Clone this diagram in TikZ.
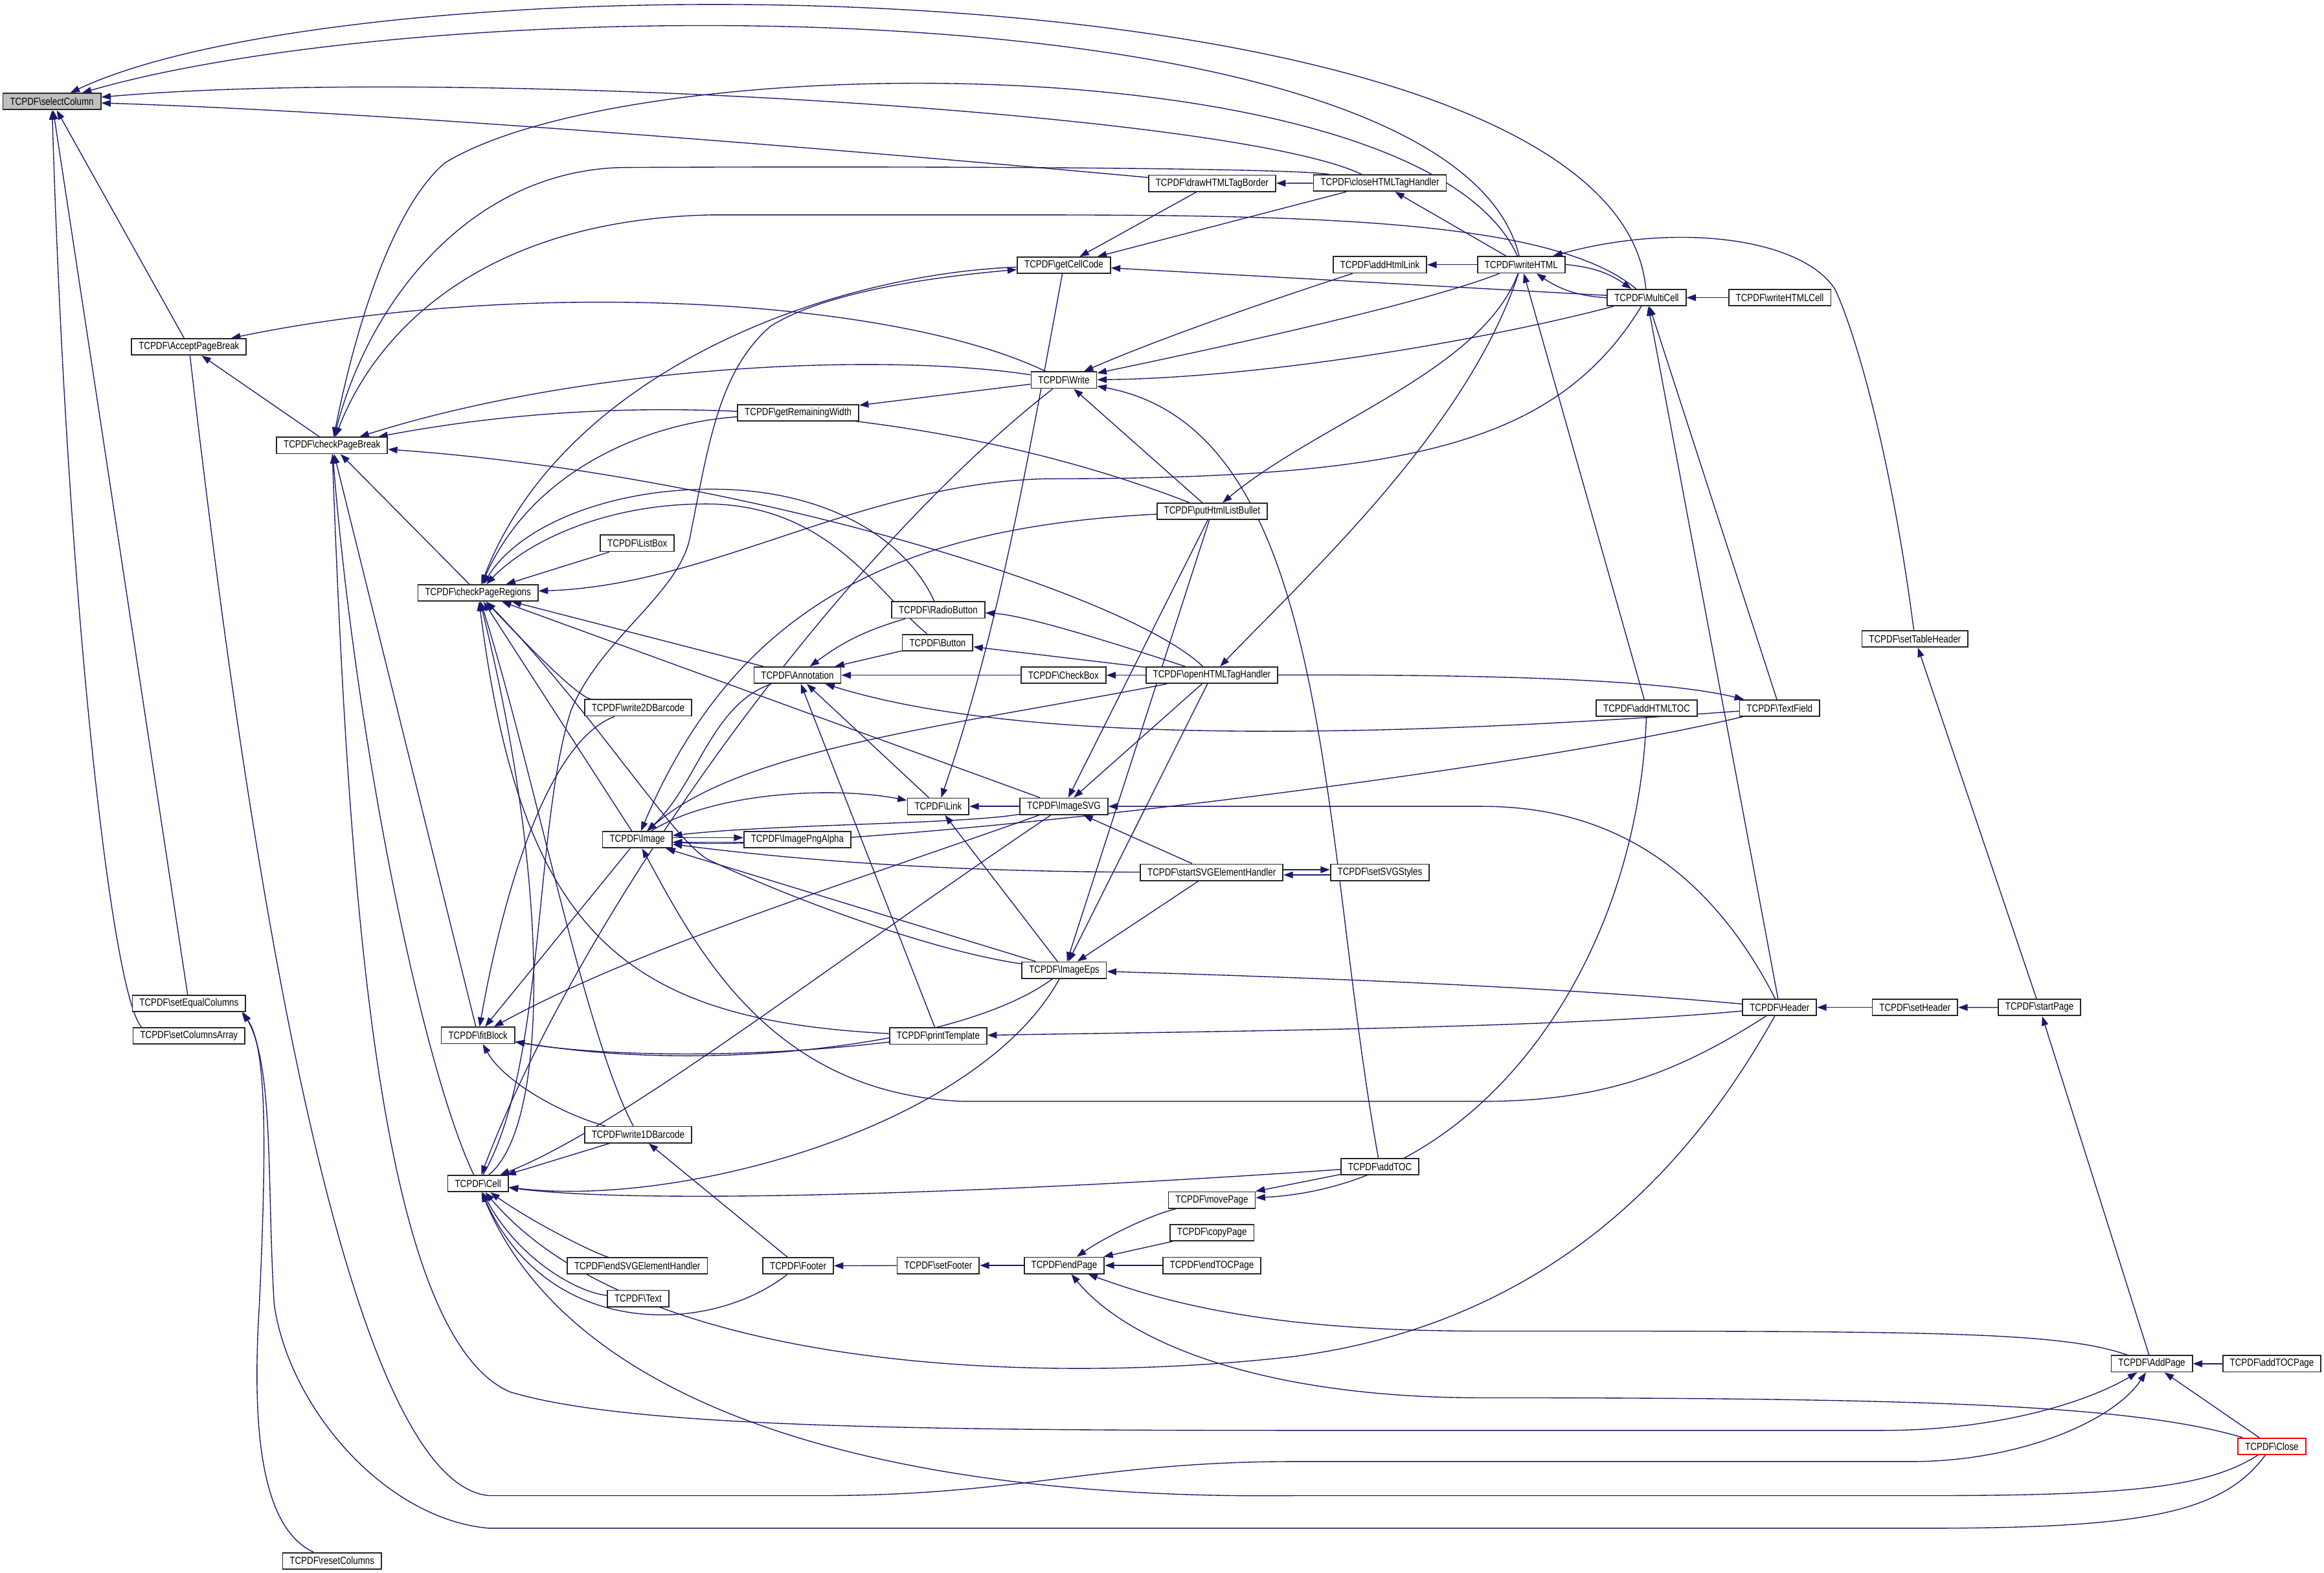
\documentclass[tikz,border=0pt]{standalone}
\usepackage{fontspec}
\setmainfont[FakeStretch=0.83]{Liberation Sans}
\usetikzlibrary{arrows.meta,backgrounds}
\definecolor{edgeblue}{HTML}{191970}
\definecolor{rootgray}{HTML}{BFBFBF}
\newcommand{\tcpdf}[1]{TCPDF\textbackslash #1}

\begin{document}
\begin{tikzpicture}[x=0.05cm, y=-0.05cm,
	func/.style={draw=black!85, fill=white, line width=1.1pt, minimum height=0.55cm, inner xsep=0.24cm, inner ysep=0pt, font=\fontsize{10}{12}\selectfont},
	root/.style={func, fill=rootgray},
	trunc/.style={func, draw=red},
	call/.style={draw=edgeblue, line width=0.85pt, -{Triangle[length=9pt,width=6.4pt]}}]
	\useasboundingbox (0,0) rectangle (1568,1061);

	% functions, column by column
	\node[root] (selectColumn) at (35,68.5) {\tcpdf{selectColumn}};
	\node[func] (AcceptPageBreak) at (127.5,234) {\tcpdf{AcceptPageBreak}};
	\node[func] (setEqualColumns) at (127.5,677) {\tcpdf{setEqualColumns}};
	\node[func] (setColumnsArray) at (127.5,698.7) {\tcpdf{setColumnsArray}};
	\node[func] (checkPageBreak) at (224,300.5) {\tcpdf{checkPageBreak}};
	\node[func] (resetColumns) at (224,1053) {\tcpdf{resetColumns}};
	\node[func] (checkPageRegions) at (322.5,400) {\tcpdf{checkPageRegions}};
	\node[func] (fitBlock) at (322.5,698.5) {\tcpdf{fitBlock}};
	\node[func] (Cell) at (322.5,798.5) {\tcpdf{Cell}};
	\node[func] (ListBox) at (430,366.5) {\tcpdf{ListBox}};
	\node[func] (write2DBarcode) at (430.5,477.5) {\tcpdf{write2DBarcode}};
	\node[func] (Image) at (430,566.5) {\tcpdf{Image}};
	\node[func] (write1DBarcode) at (430.5,765.5) {\tcpdf{write1DBarcode}};
	\node[func] (endSVGElementHandler) at (430,854) {\tcpdf{endSVGElementHandler}};
	\node[func] (Text) at (430.5,876) {\tcpdf{Text}};
	\node[func] (getRemainingWidth) at (538.5,278.5) {\tcpdf{getRemainingWidth}};
	\node[func] (Annotation) at (538,455.5) {\tcpdf{Annotation}};
	\node[func] (ImagePngAlpha) at (538,566.5) {\tcpdf{ImagePngAlpha}};
	\node[func] (Footer) at (538.5,854) {\tcpdf{Footer}};
	\node[func] (RadioButton) at (633,411.5) {\tcpdf{RadioButton}};
	\node[func] (Button) at (632.6,433.5) {\tcpdf{Button}};
	\node[func] (Link) at (633,544) {\tcpdf{Link}};
	\node[func] (printTemplate) at (633,699) {\tcpdf{printTemplate}};
	\node[func] (setFooter) at (633,853.7) {\tcpdf{setFooter}};
	\node[func] (getCellCode) at (717.8,179) {\tcpdf{getCellCode}};
	\node[func] (Write) at (717.8,256.4) {\tcpdf{Write}};
	\node[func] (CheckBox) at (717.5,455.5) {\tcpdf{CheckBox}};
	\node[func] (ImageSVG) at (717.8,544) {\tcpdf{ImageSVG}};
	\node[func] (ImageEps) at (718,654.5) {\tcpdf{ImageEps}};
	\node[func] (endPage) at (718,853.7) {\tcpdf{endPage}};
	\node[func] (drawHTMLTagBorder) at (817.8,123.7) {\tcpdf{drawHTMLTagBorder}};
	\node[func] (putHtmlListBullet) at (817.8,345) {\tcpdf{putHtmlListBullet}};
	\node[func] (openHTMLTagHandler) at (817.6,455.5) {\tcpdf{openHTMLTagHandler}};
	\node[func] (startSVGElementHandler) at (817.5,588.5) {\tcpdf{startSVGElementHandler}};
	\node[func] (movePage) at (817.6,809.6) {\tcpdf{movePage}};
	\node[func] (copyPage) at (817.7,831.6) {\tcpdf{copyPage}};
	\node[func] (endTOCPage) at (817.6,853.7) {\tcpdf{endTOCPage}};
	\node[func] (closeHTMLTagHandler) at (931,123.5) {\tcpdf{closeHTMLTagHandler}};
	\node[func] (addHtmlLink) at (931,178.6) {\tcpdf{addHtmlLink}};
	\node[func] (setSVGStyles) at (931,588.5) {\tcpdf{setSVGStyles}};
	\node[func] (addTOC) at (931,787) {\tcpdf{addTOC}};
	\node[func] (writeHTML) at (1026.4,178.6) {\tcpdf{writeHTML}};
	\node[func] (MultiCell) at (1111,200.8) {\tcpdf{MultiCell}};
	\node[func] (addHTMLTOC) at (1111,477.7) {\tcpdf{addHTMLTOC}};
	\node[func] (writeHTMLCell) at (1200.8,200.8) {\tcpdf{writeHTMLCell}};
	\node[func] (TextField) at (1200.7,477.7) {\tcpdf{TextField}};
	\node[func] (Header) at (1200.7,679.6) {\tcpdf{Header}};
	\node[func] (setTableHeader) at (1292,431) {\tcpdf{setTableHeader}};
	\node[func] (setHeader) at (1292,679.6) {\tcpdf{setHeader}};
	\node[func] (startPage) at (1376,679.7) {\tcpdf{startPage}};
	\node[func] (AddPage) at (1451.8,920) {\tcpdf{AddPage}};
	\node[func] (addTOCPage) at (1532.8,920) {\tcpdf{addTOCPage}};
	\node[trunc] (Close) at (1532.8,975.7) {\tcpdf{Close}};

	\begin{scope}[on background layer]
	% calls into selectColumn
	\draw[call] (AcceptPageBreak) -- (selectColumn);
	\draw[call] (setEqualColumns) -- (selectColumn);
	\draw[call] ([xshift=0.3cm]setColumnsArray.north west) .. controls (75,670) and (45,400) .. (selectColumn);
	\draw[call] (MultiCell) .. controls (1090,-28) and (250,-33) .. (selectColumn);
	\draw[call] (writeHTML) .. controls (980,-12) and (300,-8) .. (selectColumn);
	\draw[call] (closeHTMLTagHandler) .. controls (830,75) and (300,45) .. (selectColumn);
	\draw[call] (drawHTMLTagBorder) .. controls (560,100) and (250,75) .. (selectColumn);

	\draw[call] (checkPageBreak) -- (AcceptPageBreak);
	\draw[call] (Write) .. controls (600,200) and (350,188) .. (AcceptPageBreak);

	% page handling
	\draw[call] (AcceptPageBreak) .. controls (165,560) and (230,1000) .. (330,1009) -- (553,1009) .. controls (690,1009) and (740,986) .. (874,986) -- (1290,986) .. controls (1360,986) and (1425,960) .. (AddPage);
	\draw[call] (checkPageBreak) .. controls (235,600) and (255,900) .. (344,939) .. controls (420,962) and (600,965) .. (874,965) -- (1270,965) .. controls (1350,965) and (1410,945) .. (AddPage);
	\draw[call] (Close) -- (AddPage);
	\draw[call] (addTOCPage) -- (AddPage);
	\draw[call] (AddPage) -- (startPage);
	\draw[call] (startPage) -- (setHeader);
	\draw[call] (setHeader) -- (Header);
	\draw[call] (startPage) -- (setTableHeader);
	\draw[call] (setTableHeader) .. controls (1275,300) and (1250,220) .. (1238,195) .. controls (1215,160) and (1130,150) .. (writeHTML);
	\draw[call] (Close) .. controls (1490,1003) and (1440,1009) .. (1300,1009) -- (874,1009) .. controls (620,1012) and (390,960) .. (Cell);
	\draw[call] (Close) .. controls (1500,1020) and (1450,1031) .. (1300,1031) -- (330,1031) .. controls (260,1025) and (195,950) .. (185,880) .. controls (180,800) and (185,720) .. ([xshift=-0.1cm]setEqualColumns.south east);
	\draw[call] (resetColumns) .. controls (175,1030) and (170,960) .. (175,880) .. controls (180,770) and (180,705) .. ([xshift=-0.15cm]setEqualColumns.south east);
	\draw[call] (Close) .. controls (1440,948) and (1300,943) .. (1000,943) .. controls (850,943) and (760,905) .. (endPage);
	\draw[call] (AddPage) .. controls (1390,898) and (1300,898) .. (1000,898) .. controls (860,898) and (790,880) .. (endPage);
	\draw[call] (movePage) .. controls (775,820) and (745,835) .. (endPage);
	\draw[call] (copyPage) -- (endPage);
	\draw[call] (endTOCPage) -- (endPage);
	\draw[call] (endPage) -- (setFooter);
	\draw[call] (setFooter) -- (Footer);
	\draw[call] (Footer) -- (write1DBarcode);
	\draw[call] (addTOC) -- (movePage);
	\draw[call] (addHTMLTOC) .. controls (1105,650) and (1000,800) .. (movePage);

	% html
	\draw[call] (writeHTMLCell) -- (MultiCell);
	\draw[call] (writeHTML) to[bend left=15] (MultiCell);
	\draw[call] (MultiCell) to[bend left=15] (writeHTML);
	\draw[call] (addHTMLTOC) -- (writeHTML);
	\draw[call] (writeHTML) -- (addHtmlLink);
	\draw[call] (addHtmlLink) .. controls (880,195) and (790,225) .. (Write);
	\draw[call] (writeHTML) .. controls (960,205) and (820,235) .. (Write);
	\draw[call] (MultiCell) .. controls (1000,230) and (850,255) .. (Write);
	\draw[call] (addTOC) .. controls (890,560) and (900,290) .. (Write);
	\draw[call] (putHtmlListBullet) -- (Write);
	\draw[call] (Write) -- (getRemainingWidth);
	\draw[call] (writeHTML) -- (closeHTMLTagHandler);
	\draw[call] (closeHTMLTagHandler) -- (drawHTMLTagBorder);
	\draw[call] (drawHTMLTagBorder) -- (getCellCode);
	\draw[call] (closeHTMLTagHandler) -- (getCellCode);
	\draw[call] (MultiCell) -- (getCellCode);
	\draw[call] (Cell) .. controls (368,720) and (360,560) .. (385,480) .. controls (405,430) and (460,400) .. (466,360) .. controls (478,300) and (485,250) .. (520,220) .. controls (560,195) and (640,186) .. (getCellCode);
	\draw[call] (getCellCode) .. controls (690,330) and (672,430) .. (Link);
	\draw[call] (writeHTML) .. controls (990,290) and (880,390) .. (openHTMLTagHandler);
	\draw[call] (writeHTML) .. controls (1000,250) and (890,285) .. (putHtmlListBullet);
	\draw[call] (openHTMLTagHandler) .. controls (640,490) and (500,505) .. (Image);
	\draw[call] (putHtmlListBullet) .. controls (620,355) and (500,400) .. (Image);
	\draw[call] (putHtmlListBullet) -- (ImageSVG);
	\draw[call] (putHtmlListBullet) -- (ImageEps);
	\draw[call] (openHTMLTagHandler) -- (ImageSVG);
	\draw[call] (openHTMLTagHandler) -- (ImageEps);
	\draw[call] (openHTMLTagHandler) -- (CheckBox);
	\draw[call] (openHTMLTagHandler) -- (Button);
	\draw[call] (openHTMLTagHandler) .. controls (740,430) and (690,415) .. (RadioButton);
	\draw[call] (openHTMLTagHandler) .. controls (1000,455) and (1120,458) .. (TextField);
	\draw[call] (openHTMLTagHandler) .. controls (760,400) and (500,320) .. (checkPageBreak);

	% forms and annotations
	\draw[call] (RadioButton) to[bend right=10] (Annotation);
	\draw[call] (Button) -- (Annotation);
	\draw[call] (CheckBox) -- (Annotation);
	\draw[call] (TextField) .. controls (900,500) and (680,500) .. (Annotation);
	\draw[call] (printTemplate) -- (Annotation);
	\draw[call] (Link) -- (Annotation);
	\draw[call] (Annotation) -- (checkPageRegions);
	\draw[call] (Annotation) .. controls (480,475) and (470,530) .. (Image);
	\draw[call] (TextField) -- (MultiCell);
	\draw[call] (TextField) .. controls (1000,525) and (560,575) .. (Image);

	% images
	\draw[call] (Image) .. controls (480,535) and (560,530) .. (Link);
	\draw[call] (ImageSVG) -- (Link);
	\draw[call] (ImageEps) -- (Link);
	\draw[call] (ImageSVG) -- (checkPageRegions);
	\draw[call] (ImageSVG) .. controls (650,556) and (520,556) .. (Image);
	\draw[call] (ImageSVG) .. controls (560,650) and (420,760) .. (Cell);
	\draw[call] (ImageSVG) .. controls (560,600) and (430,640) .. (fitBlock);
	\draw[call] (startSVGElementHandler) -- (ImageSVG);
	\draw[call] (startSVGElementHandler) -- (ImageEps);
	\draw[call] (startSVGElementHandler) .. controls (620,588) and (520,578) .. (Image);
	\draw[call] ([yshift=2.5pt]startSVGElementHandler.east) -- ([yshift=2.5pt]setSVGStyles.west);
	\draw[call] ([yshift=-2.5pt]setSVGStyles.west) -- ([yshift=-2.5pt]startSVGElementHandler.east);
	\draw[call] ([yshift=2pt]Image.east) -- ([yshift=2pt]ImagePngAlpha.west);
	\draw[call] ([yshift=-2.5pt]ImagePngAlpha.west) -- ([yshift=-2.5pt]Image.east);
	\draw[call] (ImageEps) -- (Image);
	\draw[call] (ImageEps) .. controls (620,640) and (520,600) .. (478,580) .. controls (455,568) and (400,480) .. (checkPageRegions);
	\draw[call] (ImageEps) .. controls (650,705) and (480,725) .. (fitBlock);
	\draw[call] (ImageEps) .. controls (660,760) and (460,815) .. (Cell);
	\draw[call] (Image) -- (checkPageRegions);
	\draw[call] (Image) -- (fitBlock);

	% header
	\draw[call] (Header) .. controls (1160,600) and (1100,544) .. (1000,544) -- (ImageSVG);
	\draw[call] (Header) .. controls (1050,666) and (900,660) .. (ImageEps);
	\draw[call] (Header) .. controls (1050,694) and (800,696) .. (printTemplate);
	\draw[call] (Header) .. controls (1130,725) and (1080,743) .. (1000,743) -- (650,743) .. controls (520,738) and (470,640) .. (Image);
	\draw[call] (Header) .. controls (1150,770) and (1060,890) .. (874,915) .. controls (700,935) and (430,925) .. (Cell);
	\draw[call] (Header) -- (MultiCell);

	% cell and page regions
	\draw[call] (write1DBarcode) -- (Cell);
	\draw[call] (endSVGElementHandler) .. controls (400,845) and (360,825) .. (Cell);
	\draw[call] (Text) .. controls (390,872) and (350,850) .. (Cell);
	\draw[call] (Footer) .. controls (480,900) and (370,905) .. (Cell);
	\draw[call] (addTOC) .. controls (750,800) and (450,815) .. (Cell);
	\draw[call] (Write) .. controls (560,380) and (390,620) .. (Cell);
	\draw[call] (Cell) .. controls (285,720) and (240,500) .. (checkPageBreak);
	\draw[call] (Cell) .. controls (370,760) and (372,600) .. (checkPageRegions);
	\draw[call] (ListBox) -- (checkPageRegions);
	\draw[call] (write2DBarcode) .. controls (390,470) and (360,440) .. (checkPageRegions);
	\draw[call] (printTemplate) .. controls (420,688) and (352,630) .. (checkPageRegions);
	\draw[call] (write1DBarcode) .. controls (395,700) and (360,520) .. (checkPageRegions);
	\draw[call] (getRemainingWidth) .. controls (440,285) and (360,315) .. (checkPageRegions);
	\draw[call] (getCellCode) .. controls (560,185) and (380,250) .. (checkPageRegions);
	\draw[call] (MultiCell) .. controls (1050,300) and (950,323) .. (706,323) .. controls (580,326) and (480,395) .. (checkPageRegions);
	\draw[call] (RadioButton) .. controls (612,365) and (560,330) .. (480,330) .. controls (410,330) and (350,355) .. (checkPageRegions);
	\draw[call] (Button) .. controls (592,400) and (560,342) .. (480,340) .. controls (410,339) and (356,365) .. (checkPageRegions);
	\draw[call] (checkPageRegions) -- (checkPageBreak);
	\draw[call] (fitBlock) -- (checkPageBreak);
	\draw[call] (MultiCell) .. controls (1050,150) and (900,145) .. (700,145) -- (480,145) .. controls (330,148) and (255,220) .. (checkPageBreak);
	\draw[call] (writeHTML) .. controls (960,30) and (430,30) .. (300,110) .. controls (265,140) and (240,220) .. (checkPageBreak);
	\draw[call] (closeHTMLTagHandler) .. controls (870,113) and (600,112) .. (420,113) .. controls (320,115) and (250,200) .. (checkPageBreak);
	\draw[call] (Write) .. controls (600,238) and (400,245) .. (checkPageBreak);
	\draw[call] (putHtmlListBullet) .. controls (650,280) and (450,258) .. (checkPageBreak);
	\draw[call] (write2DBarcode) .. controls (370,500) and (340,600) .. (fitBlock);
	\draw[call] (printTemplate) .. controls (500,715) and (400,712) .. (fitBlock);
	\draw[call] (write1DBarcode) .. controls (380,752) and (340,730) .. (fitBlock);
	\end{scope}
\end{tikzpicture}
\end{document}
